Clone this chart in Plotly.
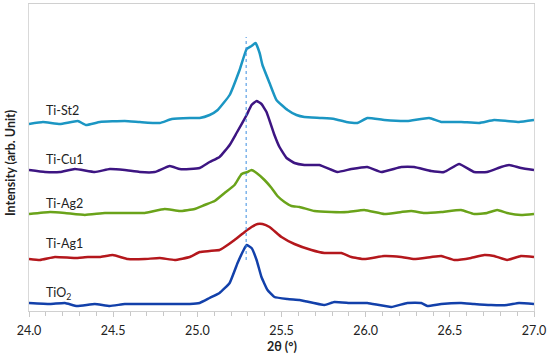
import plotly.graph_objects as go

# 2θ (degrees) and intensity (arb. unit, offset stacked)
st2_x = [24.0, 24.083, 24.184, 24.29, 24.338, 24.421, 24.569, 24.658, 24.777, 24.848, 24.955, 25.014, 25.073, 25.121, 25.192, 25.251, 25.293, 25.322, 25.346, 25.37, 25.387, 25.429, 25.47, 25.536, 25.589, 25.636, 25.737, 25.814, 25.885, 25.951, 26.01, 26.111, 26.247, 26.377, 26.449, 26.567, 26.674, 26.763, 26.84, 26.911, 27.0]
st2_y = [187, 189, 187, 190, 186, 189, 190, 189, 188, 192, 193, 193, 196, 201, 216, 241, 262, 265, 268, 258, 246, 228, 211, 201, 196, 194, 193, 192, 189, 188, 193, 191, 190, 193, 189, 189, 188, 191, 190, 189, 191]

cu1_x = [24.0, 24.095, 24.184, 24.273, 24.391, 24.48, 24.569, 24.658, 24.747, 24.836, 24.895, 24.955, 25.014, 25.073, 25.132, 25.192, 25.233, 25.293, 25.322, 25.352, 25.381, 25.411, 25.458, 25.488, 25.53, 25.577, 25.636, 25.725, 25.832, 25.915, 26.01, 26.093, 26.211, 26.288, 26.389, 26.466, 26.555, 26.644, 26.721, 26.804, 26.852, 26.923, 27.0]
cu1_y = [141, 139, 139, 142, 139, 142, 141, 139, 139, 145, 142, 142, 143, 149, 154, 166, 178, 196, 206, 210, 207, 199, 176, 164, 153, 148, 146, 146, 139, 142, 144, 139, 144, 144, 140, 139, 147, 139, 139, 144, 146, 143, 141]

ag2_x = [24.0, 24.125, 24.213, 24.332, 24.451, 24.599, 24.688, 24.806, 24.895, 24.984, 25.043, 25.103, 25.162, 25.221, 25.263, 25.298, 25.322, 25.352, 25.399, 25.441, 25.476, 25.518, 25.559, 25.607, 25.696, 25.796, 25.891, 25.992, 26.111, 26.211, 26.271, 26.348, 26.449, 26.567, 26.644, 26.721, 26.781, 26.84, 26.923, 27.0]
ag2_y = [97, 99, 98, 96, 98, 98, 98, 102, 100, 102, 106, 110, 118, 126, 137, 139, 141, 138, 131, 123, 115, 109, 105, 104, 100, 99, 99, 101, 97, 99, 100, 98, 99, 101, 97, 98, 101, 98, 96, 97]

ag1_x = [24.0, 24.065, 24.154, 24.273, 24.35, 24.421, 24.498, 24.587, 24.688, 24.777, 24.866, 24.955, 25.014, 25.073, 25.132, 25.162, 25.221, 25.281, 25.322, 25.358, 25.387, 25.429, 25.5, 25.577, 25.678, 25.755, 25.856, 25.915, 25.992, 26.111, 26.211, 26.288, 26.389, 26.449, 26.526, 26.626, 26.704, 26.763, 26.84, 26.923, 27.0]
ag1_y = [52, 51, 54, 53, 54, 54, 56, 52, 52, 53, 51, 54, 59, 60, 61, 64, 71, 79, 84, 87, 87, 84, 74, 67, 61, 58, 58, 54, 52, 55, 54, 52, 54, 55, 51, 53, 56, 55, 51, 55, 54]

tio2_x = [24.0, 24.125, 24.213, 24.285, 24.391, 24.48, 24.569, 24.688, 24.806, 24.955, 25.014, 25.073, 25.132, 25.192, 25.239, 25.275, 25.293, 25.322, 25.352, 25.381, 25.417, 25.458, 25.536, 25.607, 25.636, 25.755, 25.814, 25.915, 26.01, 26.152, 26.247, 26.33, 26.366, 26.449, 26.567, 26.644, 26.745, 26.84, 26.911, 27.0]
tio2_y = [8, 7, 8, 5, 7, 5, 7, 7, 7, 7, 8, 13, 18, 28, 48, 61, 66, 63, 51, 34, 21, 14, 12, 11, 10, 6, 9, 8, 8, 4, 8, 8, 5, 7, 8, 7, 6, 6, 8, 7]

names = ["Ti-St2", "Ti-Cu1", "Ti-Ag2", "Ti-Ag1", "TiO<sub>2</sub>"]
xs = [st2_x, cu1_x, ag2_x, ag1_x, tio2_x]
ys = [st2_y, cu1_y, ag2_y, ag1_y, tio2_y]
colors = ["#1b96c3", "#3d1582", "#6aa31a", "#b4171c", "#1240aa"]
label_y = [201, 152, 108, 68, 18]

ref_pos = 25.29
ref_span = [51, 274]

x_title = "2θ (°)"
y_title = "Intensity (arb. Unit)"

fig = go.Figure()
for n, x, y, c in zip(names, xs, ys, colors):
    fig.add_trace(go.Scatter(x=x, y=y, mode="lines", name=n,
                             line=dict(color=c, width=2.5, shape="spline", smoothing=0.35),
                             showlegend=False))

fig.add_shape(type="line", xref="x", yref="y", x0=ref_pos, x1=ref_pos,
              y0=ref_span[0], y1=ref_span[1],
              line=dict(color="#3d8ee0", width=1, dash="dot"))

for n, ly in zip(names, label_y):
    fig.add_annotation(x=24.09, y=ly, text=n, showarrow=False, xanchor="left",
                       yanchor="middle", font=dict(size=12.5, color="#222222", family="Lato"))

# axis titles
fig.add_annotation(xref="paper", yref="paper", x=0, y=0.482, xshift=-19, textangle=-90,
                   text="<b>" + y_title + "</b>", showarrow=False,
                   xanchor="center", yanchor="middle", font=dict(size=12.5, color="#222222"))
fig.add_annotation(xref="paper", yref="paper", x=0.501, y=-0.117,
                   text="<b>" + x_title + "</b>", showarrow=False,
                   xanchor="center", yanchor="middle", font=dict(size=12.5, color="#222222"))

fig.update_layout(
    width=550, height=359,
    margin=dict(l=29, r=16, t=4, b=48, autoexpand=False),
    paper_bgcolor="white", plot_bgcolor="white",
    font=dict(family="Lato", size=12.5, color="#222222"),
)
fig.update_xaxes(range=[24, 27], dtick=0.5, tickformat=".1f", automargin=False,
                 showgrid=False, zeroline=False,
                 showline=True, linecolor="#d0d0d0", linewidth=1, mirror=True,
                 ticks="outside", ticklen=5, tickcolor="#c8c8c8", ticklabelstandoff=3,
                 minor=dict(dtick=0.1, ticks="outside", ticklen=4, tickcolor="#c8c8c8"),
                 tickfont=dict(size=12.5))
fig.update_yaxes(range=[0, 307], showticklabels=False, ticks="", showgrid=False, automargin=False,
                 zeroline=False, showline=True, linecolor="#d9d9d9", mirror=True)

fig.write_html("out.html", config={"displayModeBar": False},
               post_script="document.body.style.margin='0';document.body.style.padding='0';")
